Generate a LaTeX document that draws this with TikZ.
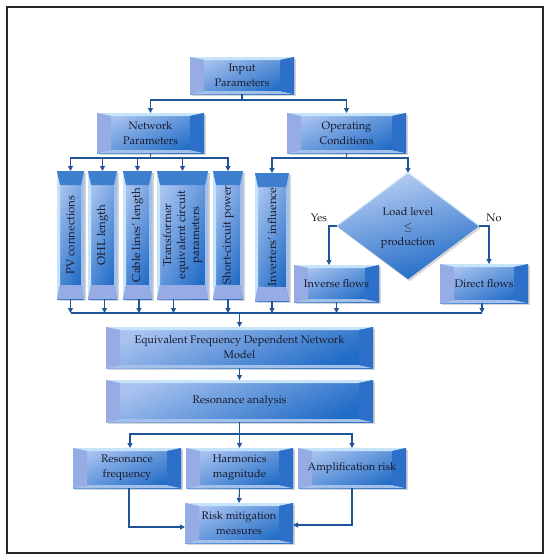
\documentclass[tikz,border=0pt]{standalone}
\usepackage[T1]{fontenc}
\usepackage{mathpazo}
\usetikzlibrary{arrows.meta,shapes.geometric,calc}
\definecolor{cLight}{HTML}{A9C3F0}
\definecolor{cDark}{HTML}{1F6BC6}
\definecolor{cTopS}{HTML}{C6E4FA}
\definecolor{cBotS}{HTML}{A2C0EA}
\definecolor{cLeftS}{HTML}{97ABE4}
\definecolor{cRightS}{HTML}{2C70CA}
\definecolor{cVTop}{HTML}{3F7FD0}
\definecolor{conncol}{HTML}{1F5596}
\definecolor{txtcol}{HTML}{1A1A2C}
\tikzset{
  geo/.style={rectangle, inner sep=0pt, outer sep=0pt},
  txt/.style={text=txtcol, align=center, font=\fontsize{11}{15}\selectfont, inner sep=0pt},
  vtxt/.style={text=txtcol, align=center, font=\fontsize{11.5}{14}\selectfont, inner sep=0pt, rotate=90},
  conn/.style={draw=conncol, line width=1.1pt, -{Triangle[length=5pt,width=5pt]}},
  cline/.style={draw=conncol, line width=1.1pt},
  shadowc/.style={fill=black!30, opacity=0.55},
}
\newcommand\hbev[6]{%
  \fill[shadowc] (#2+1.5,#3+2) rectangle (#4+1.5,#5+2);
  \shade[top color=cLight, bottom color=cDark, shading angle=25] (#2,#3) rectangle (#4,#5);
  \fill[cTopS] (#2,#3) -- (#4,#3) -- (#4-14,#3+3) -- (#2+14,#3+3) -- cycle;
  \fill[cBotS] (#2,#5) -- (#4,#5) -- (#4-14,#5-3) -- (#2+14,#5-3) -- cycle;
  \fill[cLeftS] (#2,#3) -- (#2+14,#3+3) -- (#2+14,#5-3) -- (#2,#5) -- cycle;
  \fill[cRightS] (#4,#3) -- (#4-14,#3+3) -- (#4-14,#5-3) -- (#4,#5) -- cycle;
  \node[geo, minimum width={(#4-#2)*1pt}, minimum height={(#5-#3)*1pt}] (#1) at ({(#2+#4)/2},{(#3+#5)/2}) {};
  \node[txt] at (#1.center) {#6};
}
\newcommand\vbev[6]{%
  \fill[shadowc] (#2+2,#3+1.5) rectangle (#4+2,#5+1.5);
  \shade[left color=cLight, right color=cDark, shading angle=65] (#2,#3) rectangle (#4,#5);
  \fill[cTopS] (#2,#3) -- (#2,#5) -- (#2+3,#5-14) -- (#2+3,#3+14) -- cycle;
  \fill[cBotS] (#4,#3) -- (#4,#5) -- (#4-3,#5-14) -- (#4-3,#3+14) -- cycle;
  \fill[cVTop] (#2,#3) -- (#4,#3) -- (#4-3,#3+14) -- (#2+3,#3+14) -- cycle;
  \fill[cLeftS] (#2,#5) -- (#4,#5) -- (#4-3,#5-14) -- (#2+3,#5-14) -- cycle;
  \node[geo, minimum width={(#4-#2)*1pt}, minimum height={(#5-#3)*1pt}] (#1) at ({(#2+#4)/2},{(#3+#5)/2}) {};
  \node[vtxt] at (#1.center) {#6};
}
\begin{document}
\begin{tikzpicture}[x=1pt,y=-1pt]
\useasboundingbox (0,0) rectangle (550,560);
\draw[line width=1.5pt, draw=black!85] (7,7) rectangle (543,553);

\hbev{input}{190}{57}{294}{94}{Input\\Parameters}
\hbev{netp}{97}{113}{204}{153}{Network\\Parameters}
\hbev{opc}{287}{113}{406}{153}{Operating\\Conditions}

\vbev{pv}{57}{171}{84}{299}{PV connections}
\vbev{ohl}{88}{171}{117}{299}{OHL length}
\vbev{cab}{123}{171}{152}{299}{Cable lines' length}
\vbev{tr}{157}{171}{208}{299}{Transformer\\equivalent circuit\\parameters}
\vbev{sc}{213}{171}{243}{299}{Short-circuit power}
\vbev{inv}{255}{173}{289}{301}{Inverters' influence}

% diamond
\node[diamond, minimum width=142pt, minimum height=106pt, inner sep=0pt, aspect=1.34] (dia) at (408,226) {};
\fill[shadowc] ($(dia.north)+(1.5,2)$) -- ($(dia.east)+(1.5,2)$) -- ($(dia.south)+(1.5,2)$) -- ($(dia.west)+(1.5,2)$) -- cycle;
\shade[top color=cLight!80!white, bottom color=cDark, shading angle=15] (dia.north) -- (dia.east) -- (dia.south) -- (dia.west) -- cycle;
\draw[cTopS, line width=1pt] (dia.west) -- (dia.north) -- (dia.east);
\node[txt] at (408,228) {Load level\\$\leq$\\production};
\node[txt] (yes) at (319,218) {Yes};
\node[txt] (no) at (494,218) {No};

\hbev{if}{294}{265}{379}{302}{Inverse flows}
\hbev{df}{440}{264}{528}{303}{Direct flows}

\hbev{efd}{106}{327}{373}{368}{Equivalent Frequency Dependent Network\\Model}
\hbev{ra}{106}{380}{373}{422}{Resonance analysis}

\hbev{rf}{73}{448}{181}{488}{Resonance\\frequency}
\hbev{hm}{186}{448}{293}{488}{Harmonics\\magnitude}
\hbev{ar}{298}{448}{406}{488}{Amplification risk}
\hbev{rm}{185}{503}{293}{543}{Risk mitigation\\measures}

% connectors
\draw[conn] (input.south) -- ++(0,6) -| (netp.north);
\draw[conn] (input.south) -- ++(0,6) -| (opc.north);
\foreach \b in {pv,ohl,cab,tr,sc} {
  \draw[conn] (netp.south) -- ++(0,5) -| (\b.north);
}
\draw[conn] (opc.south) -- ++(0,5) -| (inv.north);
\draw[conn] (opc.south) -- ++(0,5) -| (dia.north);
\draw[conn] (dia.west) -| ([xshift=-7.5pt]if.north);
\draw[conn] (dia.east) -| ([xshift=5pt]df.north);

\coordinate (coll) at (0,313);
\draw[cline] (pv.south |- coll) -- ([xshift=-2pt]df.south |- coll);
\draw[conn] (pv.south) -- (pv.south |- coll);
\draw[conn] ([xshift=2pt]ohl.south) -- ([xshift=2pt]ohl.south |- coll);
\draw[conn] ([xshift=1.5pt]cab.south) -- ([xshift=1.5pt]cab.south |- coll);
\draw[conn] ([xshift=-9pt]tr.south) -- ([xshift=-9pt]tr.south |- coll);
\draw[conn] (sc.south) -- (sc.south |- coll);
\draw[conn] (inv.south) -- (inv.south |- coll);
\draw[conn] (if.south) -- (if.south |- coll);
\draw[conn] ([xshift=-2pt]df.south) -- ([xshift=-2pt]df.south |- coll);
\draw[conn] (efd.north |- coll) -- (efd.north);

\draw[conn] (efd.south) -- (ra.north);
\draw[conn] (ra.south) -- ++(0,12) -| ([xshift=3pt]rf.north);
\draw[conn] (ra.south) -- (hm.north);
\draw[conn] (ra.south) -- ++(0,12) -| (ar.north);
\draw[conn] (hm.south) -- (rm.north);
\draw[conn] ([xshift=2pt]rf.south) |- ([yshift=-4pt]rm.west);
\draw[conn] (ar.south) |- ([yshift=-2pt]rm.east);
\end{tikzpicture}
\end{document}
